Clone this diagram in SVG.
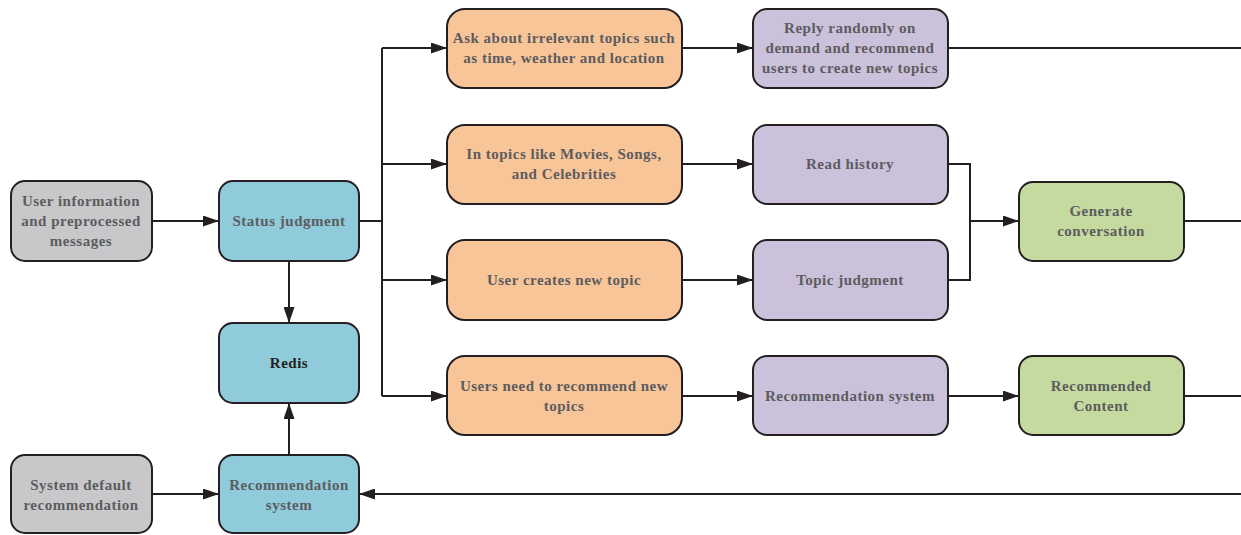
<svg xmlns="http://www.w3.org/2000/svg" width="1241" height="535" viewBox="0 0 1241 535">
<defs>
<marker id="ah" viewBox="0 0 10 10" refX="10" refY="5" markerWidth="16" markerHeight="11" preserveAspectRatio="none" markerUnits="userSpaceOnUse" orient="auto">
<path d="M0,0 L10,5 L0,10 z" fill="#231f20"/>
</marker>
<style>
.n{stroke:#231f20;stroke-width:2}
.g{fill:#c8c8ca}.b{fill:#8fcbdb}.o{fill:#f8c599}.p{fill:#cbc1da}.gr{fill:#c5da9f}
text{font-family:"Liberation Serif","Times New Roman",serif;font-weight:bold;font-size:15px;letter-spacing:0.5px;fill:#5c5c5e;text-anchor:middle}
.dk{fill:#231f20}
.c{fill:none;stroke:#231f20;stroke-width:2}
</style>
</defs>
<rect width="1241" height="535" fill="#fff"/>
<g id="connectors">
<path class="c" d="M152,221 H219" marker-end="url(#ah)"/>
<path class="c" d="M359,221 H382"/>
<path class="c" d="M382,48 V396"/>
<path class="c" d="M382,48 H447" marker-end="url(#ah)"/>
<path class="c" d="M382,164 H447" marker-end="url(#ah)"/>
<path class="c" d="M382,280 H447" marker-end="url(#ah)"/>
<path class="c" d="M382,396 H447" marker-end="url(#ah)"/>
<path class="c" d="M682,48 H753" marker-end="url(#ah)"/>
<path class="c" d="M682,164 H753" marker-end="url(#ah)"/>
<path class="c" d="M682,280 H753" marker-end="url(#ah)"/>
<path class="c" d="M682,396 H753" marker-end="url(#ah)"/>
<path class="c" d="M948,48 H1241"/>
<path class="c" d="M948,164 H970 V280 H948"/>
<path class="c" d="M970,221 H1019" marker-end="url(#ah)"/>
<path class="c" d="M1184,221 H1241"/>
<path class="c" d="M948,396 H1019" marker-end="url(#ah)"/>
<path class="c" d="M1184,396 H1241"/>
<path class="c" d="M1241,494 H359" marker-end="url(#ah)"/>
<path class="c" d="M152,494 H219" marker-end="url(#ah)"/>
<path class="c" d="M289,261 V323" marker-end="url(#ah)"/>
<path class="c" d="M289,455 V403" marker-end="url(#ah)"/>
</g>
<g id="user-info">
<rect class="n g" x="11" y="181" width="141" height="80" rx="14"/>
<text x="81" y="206">User information</text>
<text x="81" y="226">and preprocessed</text>
<text x="81" y="246">messages</text>
</g>
<g id="status-judgment">
<rect class="n b" x="219" y="181" width="140" height="80" rx="14"/>
<text x="289" y="226">Status judgment</text>
</g>
<g id="redis">
<rect class="n b" x="219" y="323" width="140" height="80" rx="14"/>
<text class="dk" x="289" y="368">Redis</text>
</g>
<g id="rec-system-blue">
<rect class="n b" x="219" y="455" width="140" height="78" rx="14"/>
<text x="289" y="490">Recommendation</text>
<text x="289" y="510">system</text>
</g>
<g id="system-default">
<rect class="n g" x="11" y="455" width="141" height="78" rx="14"/>
<text x="81" y="490">System default</text>
<text x="81" y="510">recommendation</text>
</g>
<g id="ask-irrelevant">
<rect class="n o" x="447" y="9" width="235" height="79" rx="18"/>
<text x="564" y="43">Ask about irrelevant topics such</text>
<text x="564" y="63">as time, weather and location</text>
</g>
<g id="topics-like">
<rect class="n o" x="447" y="125" width="235" height="79" rx="18"/>
<text x="564" y="159">In topics like Movies, Songs,</text>
<text x="564" y="179">and Celebrities</text>
</g>
<g id="user-creates">
<rect class="n o" x="447" y="240" width="235" height="80" rx="18"/>
<text x="564" y="285">User creates new topic</text>
</g>
<g id="users-need">
<rect class="n o" x="447" y="356" width="235" height="79" rx="18"/>
<text x="564" y="391">Users need to recommend new</text>
<text x="564" y="411">topics</text>
</g>
<g id="reply-randomly">
<rect class="n p" x="753" y="9" width="195" height="79" rx="14"/>
<text x="850" y="33">Reply randomly on</text>
<text x="850" y="53">demand and recommend</text>
<text x="850" y="73">users to create new topics</text>
</g>
<g id="read-history">
<rect class="n p" x="753" y="125" width="195" height="79" rx="14"/>
<text x="850" y="169">Read history</text>
</g>
<g id="topic-judgment">
<rect class="n p" x="753" y="240" width="195" height="80" rx="14"/>
<text x="850" y="285">Topic judgment</text>
</g>
<g id="rec-system-purple">
<rect class="n p" x="753" y="356" width="195" height="79" rx="14"/>
<text x="850" y="401">Recommendation system</text>
</g>
<g id="generate-conversation">
<rect class="n gr" x="1019" y="182" width="165" height="79" rx="14"/>
<text x="1101" y="216">Generate</text>
<text x="1101" y="236">conversation</text>
</g>
<g id="recommended-content">
<rect class="n gr" x="1019" y="356" width="165" height="79" rx="14"/>
<text x="1101" y="391">Recommended</text>
<text x="1101" y="411">Content</text>
</g>
</svg>
